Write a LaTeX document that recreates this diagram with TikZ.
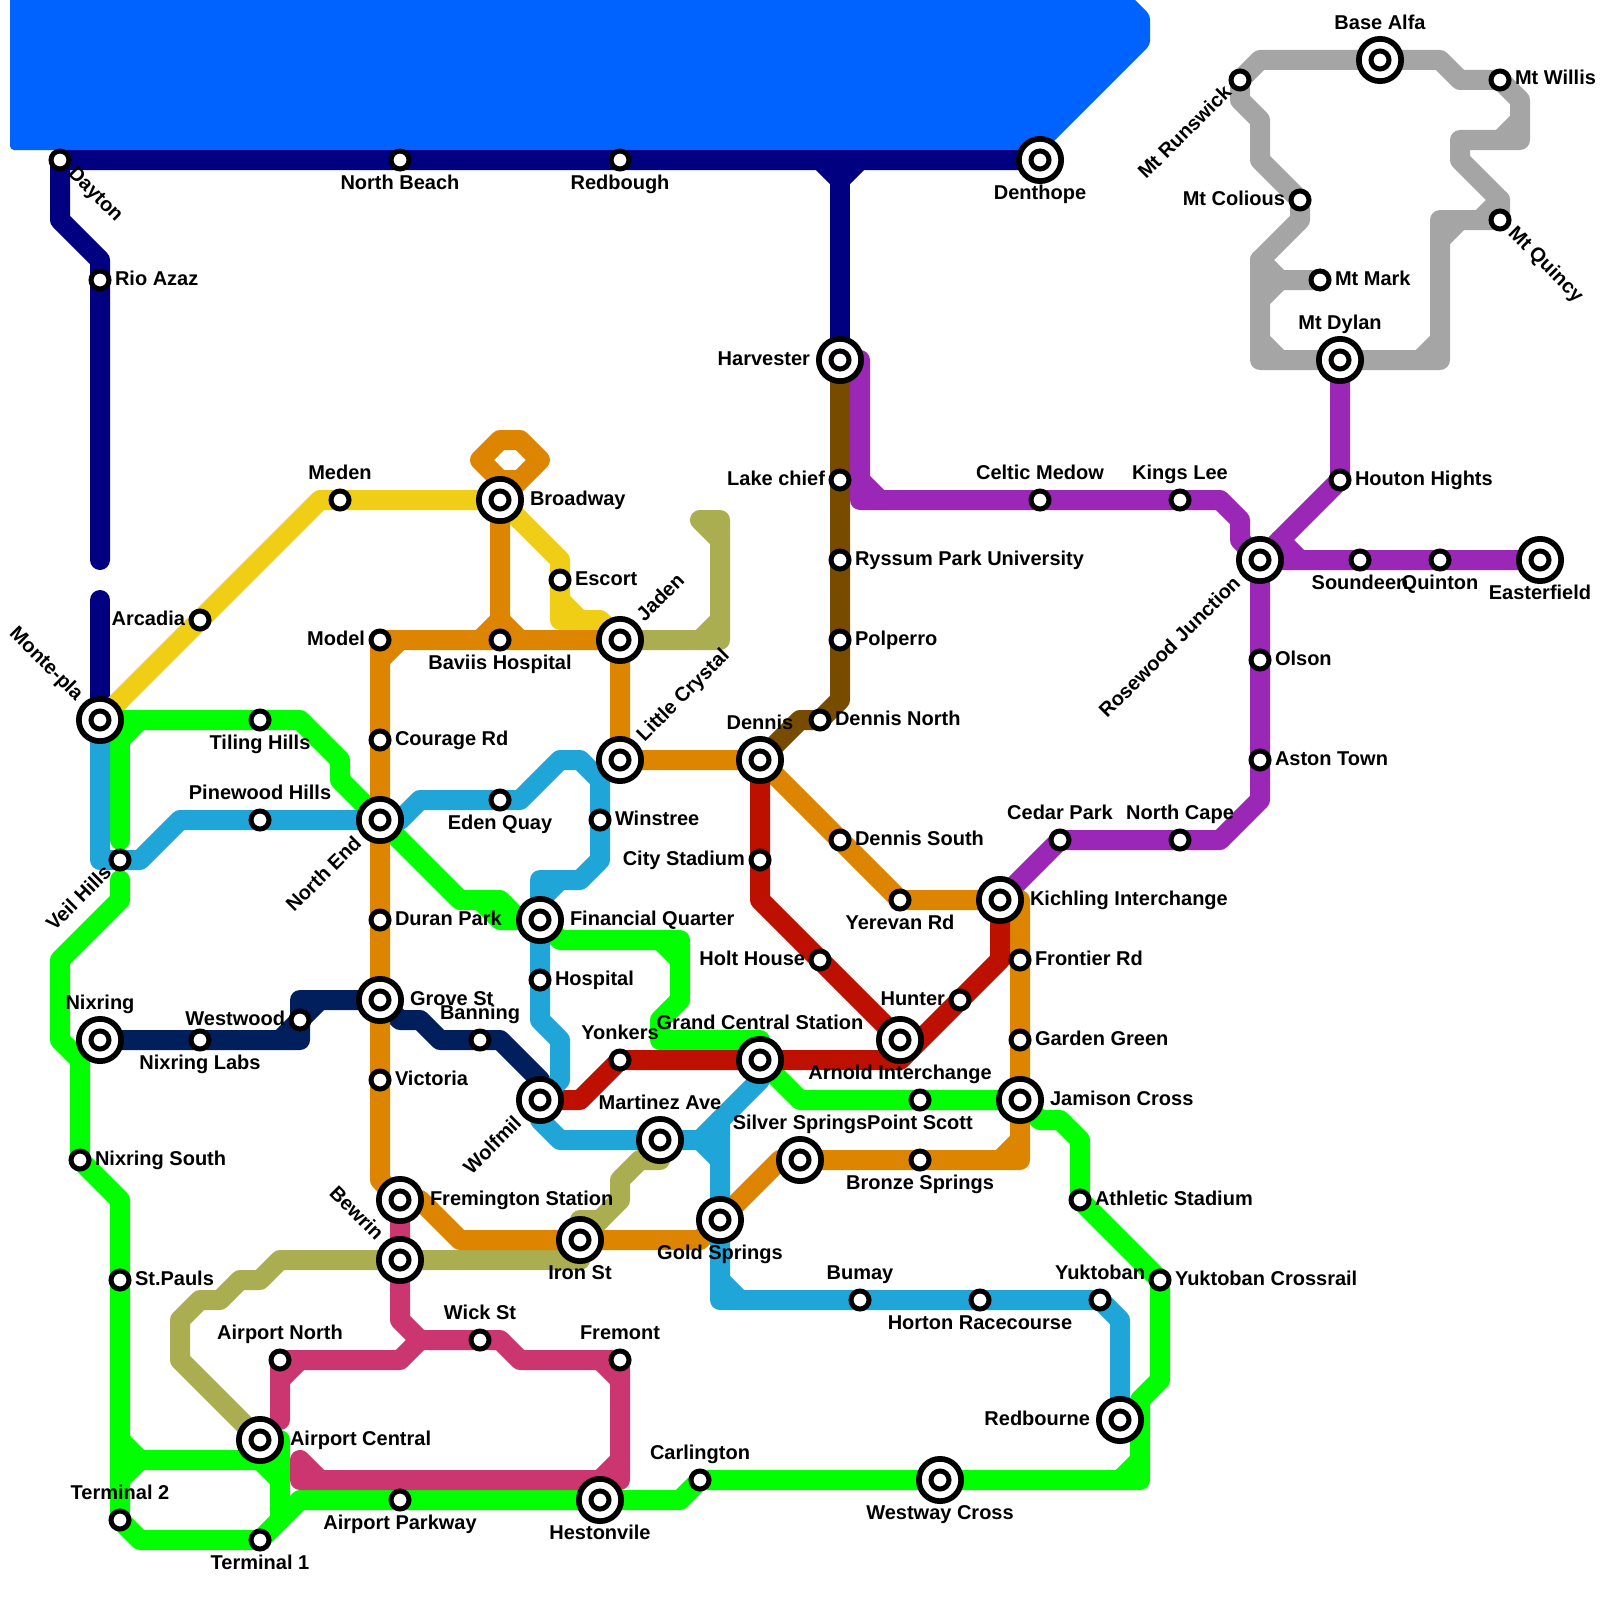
\documentclass[tikz,border=0pt]{standalone}
\usepackage{fontspec}
\setmainfont{Liberation Sans}
\usetikzlibrary{calc}
\pgfdeclarelayer{lines}
\pgfsetlayers{lines,main}
\definecolor{cBlue}{HTML}{0063FF}
\definecolor{cNavy}{HTML}{000080}
\definecolor{cBrown}{HTML}{784C00}
\definecolor{cPurple}{HTML}{9B27B6}
\definecolor{cGray}{HTML}{A5A5A5}
\definecolor{cYellow}{HTML}{F0CE15}
\definecolor{cOlive}{HTML}{AAAD50}
\definecolor{cGreen}{HTML}{00FF00}
\definecolor{cDark}{HTML}{001F5C}
\definecolor{cOrange}{HTML}{DD8500}
\definecolor{cCrimson}{HTML}{CC3670}
\definecolor{cRed}{HTML}{BD1000}
\definecolor{cSky}{HTML}{20A5D8}
\tikzset{
  metro/.style={line width=20pt,line cap=round,line join=round},
  smallst/.style={circle,draw=black,line width=5pt,fill=white,minimum size=18pt,inner sep=0pt,outer sep=0pt},
  bigst/.style={circle,draw=black,line width=5.7pt,fill=white,minimum size=42.3pt,inner sep=0pt,outer sep=0pt,
    path picture={\draw[black,line width=5pt] (path picture bounding box.center) circle (9pt);}},
  lab/.style={inner sep=0pt,outer sep=0pt,font=\fontsize{20}{24}\selectfont\bfseries,text height=14pt,text depth=4pt,text=black},
  tR/.style={anchor=west,xshift=15pt,yshift=0pt},
  tL/.style={anchor=east,xshift=-15pt,yshift=0pt},
  tA/.style={anchor=center,yshift=26pt},
  tB/.style={anchor=center,yshift=-24pt},
  bR/.style={anchor=west,xshift=30pt,yshift=0pt},
  bL/.style={anchor=east,xshift=-30pt,yshift=0pt},
  bA/.style={anchor=center,yshift=35.5pt},
  bB/.style={anchor=center,yshift=-34.5pt},
}
\newcommand{\Sm}[3]{\node[smallst] (#1) at (#2,#3) {};}
\newcommand{\Bg}[3]{\node[bigst] (#1) at (#2,#3) {};}
\newcommand{\Lb}[3]{\node[lab,#2] (#1-t) at (#1.center) {#3};}
% rotated label: station, angle, anchor, dx, dy, text
\newcommand{\Rt}[6]{\node[lab,anchor=#3,rotate=#2] (#1-t) at ($(#1.center)+(#4,#5)$) {#6};}
\begin{document}
\begin{tikzpicture}[x=1pt,y=-1pt]
\useasboundingbox (0,0) rectangle (1600,1600);
% big stations
\Bg{denthope}{1040}{160}\Bg{harvester}{840}{360}\Bg{broadway}{500}{500}\Bg{monte}{100}{720}
\Bg{northend}{380}{820}\Bg{jaden}{620}{640}\Bg{crystal}{620}{760}\Bg{dennis}{760}{760}
\Bg{financial}{540}{920}\Bg{grove}{380}{1000}\Bg{nixring}{100}{1040}\Bg{wolfmil}{540}{1100}
\Bg{central}{760}{1060}\Bg{arnold}{900}{1040}\Bg{kichling}{1000}{900}\Bg{jamison}{1020}{1100}
\Bg{martinez}{660}{1140}\Bg{silver}{800}{1160}\Bg{fremington}{400}{1200}\Bg{bewrin}{400}{1260}
\Bg{iron}{580}{1240}\Bg{gold}{720}{1220}\Bg{airport}{260}{1440}\Bg{heston}{600}{1500}
\Bg{westway}{940}{1480}\Bg{redbourne}{1120}{1420}\Bg{basealfa}{1380}{60}\Bg{dylan}{1340}{360}
\Bg{rosewood}{1260}{560}\Bg{easter}{1540}{560}
% small stations
\Sm{dayton}{60}{160}\Sm{nbeach}{400}{160}\Sm{redbough}{620}{160}\Sm{rio}{100}{280}
\Sm{lake}{840}{480}\Sm{ryssum}{840}{560}\Sm{polperro}{840}{640}\Sm{dnorth}{820}{720}
\Sm{arcadia}{200}{620}\Sm{meden}{340}{500}\Sm{escort}{560}{580}\Sm{model}{380}{640}
\Sm{baviis}{500}{640}\Sm{courage}{380}{740}\Sm{tiling}{260}{720}\Sm{pinewood}{260}{820}
\Sm{eden}{500}{800}\Sm{winstree}{600}{820}\Sm{veil}{120}{860}\Sm{duran}{380}{920}
\Sm{hospital}{540}{980}\Sm{city}{760}{860}\Sm{holt}{820}{960}\Sm{dsouth}{840}{840}
\Sm{yerevan}{900}{900}\Sm{hunter}{960}{1000}\Sm{frontier}{1020}{960}\Sm{garden}{1020}{1040}
\Sm{cedar}{1060}{840}\Sm{ncape}{1180}{840}\Sm{westwood}{300}{1020}\Sm{nlabs}{200}{1040}
\Sm{banning}{480}{1040}\Sm{yonkers}{620}{1060}\Sm{victoria}{380}{1080}\Sm{nsouth}{80}{1160}
\Sm{pscott}{920}{1100}\Sm{bronze}{920}{1160}\Sm{athletic}{1080}{1200}\Sm{stpauls}{120}{1280}
\Sm{wick}{480}{1340}\Sm{anorth}{280}{1360}\Sm{fremont}{620}{1360}\Sm{termtwo}{120}{1520}
\Sm{termone}{260}{1540}\Sm{parkway}{400}{1500}\Sm{carlington}{700}{1480}\Sm{bumay}{860}{1300}
\Sm{horton}{980}{1300}\Sm{yuktoban}{1100}{1300}\Sm{crossrail}{1160}{1280}\Sm{celtic}{1040}{500}
\Sm{kings}{1180}{500}\Sm{soundeen}{1360}{560}\Sm{quinton}{1440}{560}\Sm{olson}{1260}{660}
\Sm{aston}{1260}{760}\Sm{houton}{1340}{480}\Sm{runswick}{1240}{80}\Sm{willis}{1500}{80}
\Sm{colious}{1300}{200}\Sm{mark}{1320}{280}\Sm{quincy}{1500}{220}
\begin{pgfonlayer}{lines}
% water
\fill[cBlue,rounded corners=4pt] (10,-10) -- (1125,-10) -- (1150,15) -- (1150,45) -- (1045,150) -- (10,150) -- cycle;
% navy
\draw[metro,cNavy] (denthope.center) -- (redbough.center) -- (nbeach.center) -- (dayton.center) -- (60,220) -- (100,260) -- (rio.center) -- (100,560);
\draw[metro,cNavy] (100,600) -- (monte.center);
\draw[metro,cNavy] (820,160) -- (840,180) -- (860,160);
\draw[metro,cNavy] (840,170) -- (harvester.center);
% brown
\draw[metro,cBrown] (harvester.center) -- (lake.center) -- (ryssum.center) -- (polperro.center) -- (840,700) -- (dnorth.center) -- (800,720) -- (dennis.center);
% gray
\draw[metro,cGray] (runswick.center) -- (1260,60) -- (basealfa.center) -- (1440,60) -- (1460,80) -- (willis.center) -- (1520,100) -- (1520,140) -- (1460,140) -- (1460,160) -- (1500,200) -- (quincy.center) -- (1440,220) -- (1440,360) -- (dylan.center) -- (1260,360) -- (1260,260) -- (1300,220) -- (colious.center) -- (1260,160) -- (1260,120) -- (1240,100) -- (runswick.center);
\draw[metro,cGray] (1520,120) -- (1500,140);
\draw[metro,cGray] (1500,200) -- (1480,220);
\draw[metro,cGray] (1440,240) -- (1460,220);
\draw[metro,cGray] (1420,360) -- (1440,340);
\draw[metro,cGray] (1260,340) -- (1280,360);
\draw[metro,cGray] (1260,260) -- (1280,280) -- (mark.center);
\draw[metro,cGray] (1260,300) -- (1280,280);
% purple
\draw[metro,cPurple] (harvester.center) -- (860,360) -- (860,500) -- (celtic.center) -- (kings.center) -- (1220,500) -- (1240,520) -- (1240,540) -- (rosewood.center) -- (olson.center) -- (aston.center) -- (1260,800) -- (1220,840) -- (ncape.center) -- (cedar.center) -- (kichling.center);
\draw[metro,cPurple] (860,480) -- (880,500);
\draw[metro,cPurple] (dylan.center) -- (houton.center) -- (rosewood.center) -- (soundeen.center) -- (quinton.center) -- (easter.center);
\draw[metro,cPurple] (1280,540) -- (1300,560);
% yellow
\draw[metro,cYellow] (monte.center) -- (arcadia.center) -- (320,500) -- (meden.center) -- (broadway.center) -- (560,560) -- (escort.center) -- (560,620) -- (600,620) -- (jaden.center);
\draw[metro,cYellow] (560,600) -- (580,620);
% olive
\draw[metro,cOlive] (720,540) -- (700,520) -- (720,520) -- (720,640) -- (jaden.center);
\draw[metro,cOlive] (700,640) -- (720,620);
\draw[metro,cOlive] (martinez.center) -- (660,1160) -- (640,1160) -- (620,1180) -- (620,1200) -- (iron.center) -- (580,1260) -- (bewrin.center) -- (280,1260) -- (260,1280) -- (240,1280) -- (220,1300) -- (200,1300) -- (180,1320) -- (180,1360) -- (airport.center);
\draw[metro,cOlive] (580,1220) -- (600,1220);
% green
\draw[metro,cGreen] (monte.center) -- (tiling.center) -- (300,720) -- (340,760) -- (340,780) -- (northend.center) -- (460,900) -- (500,900) -- (520,920) -- (financial.center) -- (560,940) -- (680,940) -- (680,1000) -- (660,1020) -- (660,1040) -- (760,1040) -- (central.center) -- (800,1100) -- (pscott.center) -- (jamison.center) -- (1040,1120) -- (1060,1120) -- (1080,1140) -- (athletic.center) -- (crossrail.center) -- (1160,1380) -- (1140,1400) -- (1140,1480) -- (westway.center) -- (carlington.center) -- (680,1500) -- (heston.center) -- (parkway.center) -- (300,1500) -- (termone.center) -- (140,1540) -- (termtwo.center) -- (120,1440) -- (stpauls.center) -- (120,1200) -- (nsouth.center) -- (80,1060) -- (60,1040) -- (60,960) -- (120,900) -- (120,880);
\draw[metro,cGreen] (120,720) -- (120,840);
\draw[metro,cGreen] (120,740) -- (140,720);
\draw[metro,cGreen] (480,900) -- (500,920) -- (financial.center);
\draw[metro,cGreen] (660,940) -- (680,960);
\draw[metro,cGreen] (1120,1480) -- (1140,1460);
\draw[metro,cGreen] (120,1440) -- (140,1460) -- (260,1460) -- (280,1480);
\draw[metro,cGreen] (120,1480) -- (140,1460);
\draw[metro,cGreen] (airport.center) -- (280,1440) -- (280,1520);
% dark
\draw[metro,cDark] (nixring.center) -- (nlabs.center) -- (300,1040) -- (westwood.center) -- (300,1000) -- (grove.center) -- (400,1020) -- (420,1020) -- (440,1040) -- (banning.center) -- (500,1040) -- (540,1080) -- (wolfmil.center);
\draw[metro,cDark] (280,1040) -- (westwood.center) -- (320,1000);
% orange
\draw[metro,cOrange] (520,480) -- (500,480) -- (480,460) -- (500,440) -- (520,440) -- (540,460) -- (broadway.center) -- (baviis.center);
\draw[metro,cOrange] (480,640) -- (500,620) -- (520,640);
\draw[metro,cOrange] (jaden.center) -- (baviis.center) -- (model.center) -- (courage.center) -- (northend.center) -- (duran.center) -- (grove.center) -- (victoria.center) -- (380,1180) -- (fremington.center) -- (420,1200) -- (460,1240) -- (iron.center) -- (700,1240) -- (780,1160) -- (silver.center) -- (bronze.center) -- (1020,1160) -- (jamison.center) -- (garden.center) -- (frontier.center) -- (1020,900) -- (kichling.center) -- (yerevan.center) -- (dsouth.center) -- (dennis.center) -- (crystal.center) -- (jaden.center);
\draw[metro,cOrange] (380,660) -- (400,640);
\draw[metro,cOrange] (1000,1160) -- (1020,1140);
% crimson
\draw[metro,cCrimson] (fremington.center) -- (bewrin.center) -- (400,1320) -- (420,1340) -- (wick.center) -- (500,1340) -- (520,1360) -- (fremont.center) -- (620,1480) -- (300,1480) -- (300,1460) -- (320,1480);
\draw[metro,cCrimson] (420,1340) -- (400,1360) -- (anorth.center) -- (280,1420);
\draw[metro,cCrimson] (280,1380) -- (300,1360);
\draw[metro,cCrimson] (600,1360) -- (620,1380);
\draw[metro,cCrimson] (600,1480) -- (620,1460);
% red
\draw[metro,cRed] (wolfmil.center) -- (580,1100) -- (yonkers.center) -- (central.center) -- (900,1060) -- (hunter.center) -- (1000,960) -- (kichling.center);
\draw[metro,cRed] (dennis.center) -- (city.center) -- (760,900) -- (holt.center) -- (arnold.center);
% sky
\draw[metro,cSky] (monte.center) -- (100,860) -- (veil.center) -- (140,860) -- (180,820) -- (pinewood.center) -- (northend.center) -- (400,820) -- (420,800) -- (eden.center) -- (520,800) -- (560,760) -- (580,760) -- (600,780) -- (winstree.center) -- (600,860) -- (580,880) -- (540,880) -- (financial.center) -- (hospital.center) -- (540,1020) -- (560,1040) -- (560,1080) -- (wolfmil.center) -- (540,1120) -- (560,1140) -- (martinez.center) -- (700,1140) -- (760,1080) -- (central.center);
\draw[metro,cSky] (540,900) -- (560,880);
\draw[metro,cSky] (700,1140) -- (720,1160);
\draw[metro,cSky] (720,1120) -- (gold.center) -- (720,1300) -- (bumay.center) -- (horton.center) -- (yuktoban.center) -- (1120,1320) -- (redbourne.center);
\draw[metro,cSky] (720,1280) -- (740,1300);
\end{pgfonlayer}
% labels
\Lb{denthope}{bB}{Denthope}\Lb{harvester}{bL}{Harvester}\Lb{broadway}{bR}{Broadway}
\Lb{financial}{bR}{Financial Quarter}\Lb{grove}{bR}{Grove St}\Lb{nixring}{bA}{Nixring}
\Lb{dennis}{bA}{Dennis}\Lb{central}{bA}{Grand Central Station}\Lb{arnold}{bB}{Arnold Interchange}
\Lb{kichling}{bR}{Kichling Interchange}\Lb{jamison}{bR}{Jamison Cross}\Lb{martinez}{bA}{Martinez Ave}
\Lb{silver}{bA}{Silver Springs}\Lb{fremington}{bR}{Fremington Station}\Lb{iron}{bB}{Iron St}
\Lb{gold}{bB}{Gold Springs}\Lb{airport}{bR}{Airport Central}\Lb{heston}{bB}{Hestonvile}
\Lb{westway}{bB}{Westway Cross}\Lb{redbourne}{bL}{Redbourne}\Lb{basealfa}{bA}{Base Alfa}
\Lb{dylan}{bA}{Mt Dylan}\Lb{easter}{bB}{Easterfield}
\Lb{nbeach}{tB}{North Beach}\Lb{redbough}{tB}{Redbough}\Lb{rio}{tR}{Rio Azaz}
\Lb{lake}{tL}{Lake chief}\Lb{ryssum}{tR}{Ryssum Park University}\Lb{polperro}{tR}{Polperro}
\Lb{dnorth}{tR}{Dennis North}\Lb{arcadia}{tL}{Arcadia}\Lb{meden}{tA}{Meden}\Lb{escort}{tR}{Escort}
\Lb{model}{tL}{Model}\Lb{baviis}{tB}{Baviis Hospital}\Lb{courage}{tR}{Courage Rd}
\Lb{tiling}{tB}{Tiling Hills}\Lb{pinewood}{tA}{Pinewood Hills}\Lb{eden}{tB}{Eden Quay}
\Lb{winstree}{tR}{Winstree}\Lb{duran}{tR}{Duran Park}\Lb{hospital}{tR}{Hospital}
\Lb{city}{tL}{City Stadium}\Lb{holt}{tL}{Holt House}\Lb{dsouth}{tR}{Dennis South}
\Lb{yerevan}{tB}{Yerevan Rd}\Lb{hunter}{tL}{Hunter}\Lb{frontier}{tR}{Frontier Rd}
\Lb{garden}{tR}{Garden Green}\Lb{cedar}{tA}{Cedar Park}\Lb{ncape}{tA}{North Cape}
\Lb{westwood}{tL}{Westwood}\Lb{nlabs}{tB}{Nixring Labs}\Lb{banning}{tA}{Banning}
\Lb{yonkers}{tA}{Yonkers}\Lb{victoria}{tR}{Victoria}\Lb{nsouth}{tR}{Nixring South}
\Lb{pscott}{tB}{Point Scott}\Lb{bronze}{tB}{Bronze Springs}\Lb{athletic}{tR}{Athletic Stadium}
\Lb{stpauls}{tR}{St.Pauls}\Lb{wick}{tA}{Wick St}\Lb{anorth}{tA}{Airport North}\Lb{fremont}{tA}{Fremont}
\Lb{termtwo}{tA}{Terminal 2}\Lb{termone}{tB}{Terminal 1}\Lb{parkway}{tB}{Airport Parkway}
\Lb{carlington}{tA}{Carlington}\Lb{bumay}{tA}{Bumay}\Lb{horton}{tB}{Horton Racecourse}
\Lb{yuktoban}{tA}{Yuktoban}\Lb{crossrail}{tR}{Yuktoban Crossrail}\Lb{celtic}{tA}{Celtic Medow}
\Lb{kings}{tA}{Kings Lee}\Lb{soundeen}{tB}{Soundeen}\Lb{quinton}{tB}{Quinton}\Lb{olson}{tR}{Olson}
\Lb{aston}{tR}{Aston Town}\Lb{houton}{tR}{Houton Hights}\Lb{willis}{tR}{Mt Willis}
\Lb{colious}{tL}{Mt Colious}\Lb{mark}{tR}{Mt Mark}
% rotated labels
\Rt{dayton}{-45}{west}{11}{11}{Dayton}
\Rt{quincy}{-45}{west}{11}{11}{Mt Quincy}
\Rt{runswick}{45}{east}{-11}{10}{Mt Runswick}
\Rt{veil}{45}{east}{-11}{10}{Veil Hills}
\Rt{monte}{-45}{east}{-21}{-22}{Monte-pla}
\Rt{bewrin}{-45}{east}{-21}{-22}{Bewrin}
\Rt{northend}{45}{east}{-21}{21}{North End}
\Rt{wolfmil}{45}{east}{-21}{21}{Wolfmil}
\Rt{rosewood}{45}{east}{-22}{21}{Rosewood Junction}
\Rt{jaden}{45}{west}{21}{-21}{Jaden}
\Rt{crystal}{45}{west}{21}{-21}{Little Crystal}
\end{tikzpicture}
\end{document}
